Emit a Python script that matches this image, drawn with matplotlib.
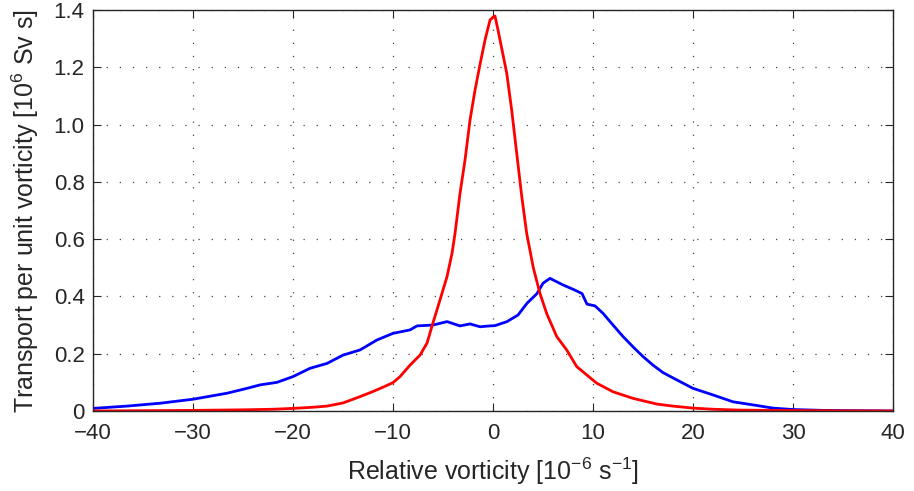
import matplotlib
matplotlib.use("Agg")
import matplotlib.pyplot as plt

# relative vorticity [1e-6 s^-1] and transport per unit vorticity [1e6 Sv s]
BLUE_X = [-40, -36.6, -33.3, -30, -26.6, -24.6, -23.3, -21.6, -20, -18.3, -16.6,
          -15, -13.3, -11.6, -10, -8.3, -7.6, -6, -4.6, -3.3, -2.3, -1.3, -0.3,
          0.2, 1.4, 2.5, 3.4, 4.4, 5.0, 5.7, 7.0, 8.0, 8.9, 9.4, 10.2, 11.0,
          12.0, 13.0, 14.0, 15.0, 16.0, 17.0, 18.4, 20, 22, 24, 26.4, 28, 30,
          33, 36, 40]
BLUE_Y = [0.009, 0.017, 0.027, 0.041, 0.062, 0.079, 0.091, 0.10, 0.12, 0.149,
          0.166, 0.195, 0.213, 0.248, 0.271, 0.283, 0.297, 0.30, 0.312, 0.297,
          0.304, 0.294, 0.297, 0.298, 0.312, 0.335, 0.376, 0.41, 0.446, 0.463,
          0.44, 0.425, 0.41, 0.373, 0.367, 0.341, 0.30, 0.26, 0.224, 0.19, 0.16,
          0.134, 0.108, 0.079, 0.056, 0.032, 0.019, 0.010, 0.005, 0.002, 0.001,
          0.0]

RED_X = [-40, -35, -30, -25, -22, -20, -18, -16.6, -15, -13.3, -12, -11, -10,
         -9.3, -8.3, -7.3, -6.6, -6.07, -5.3, -4.6, -4.1, -3.8, -3.3, -2.8,
         -2.3, -1.8, -1.3, -0.8, -0.3, 0.0, 0.2, 0.5, 1.37, 1.87, 2.37, 2.87,
         3.37, 4.03, 4.7, 5.37, 6.37, 7.37, 8.37, 9.37, 10.37, 12, 14, 16.4,
         18, 20, 22, 24.7, 28, 32, 40]
RED_Y = [0.0, 0.001, 0.002, 0.004, 0.006, 0.009, 0.013, 0.017, 0.028, 0.05,
         0.068, 0.083, 0.099, 0.12, 0.16, 0.195, 0.237, 0.30, 0.388, 0.469,
         0.55, 0.62, 0.76, 0.876, 1.016, 1.12, 1.21, 1.295, 1.365, 1.375, 1.379,
         1.33, 1.18, 1.05, 0.90, 0.75, 0.62, 0.50, 0.41, 0.34, 0.26, 0.213,
         0.155, 0.126, 0.097, 0.067, 0.044, 0.024, 0.017, 0.010, 0.006, 0.003,
         0.002, 0.001, 0.0]

X_TICKS = [-40, -30, -20, -10, 0, 10, 20, 30, 40]
Y_TICKS = [0, 0.2, 0.4, 0.6, 0.8, 1.0, 1.2, 1.4]
Y_TICKLABELS = ["0", "0.2", "0.4", "0.6", "0.8", "1.0", "1.2", "1.4"]

plt.rcParams["font.family"] = ["Liberation Sans", "DejaVu Sans"]
plt.rcParams["mathtext.fontset"] = "custom"
plt.rcParams["mathtext.rm"] = "Liberation Sans"

fig = plt.figure(figsize=(9.14, 4.91), dpi=100)
ax = fig.add_axes([0.1018, 0.163, 0.8752, 0.8166])

ax.plot(BLUE_X, BLUE_Y, color="#0000ff", linewidth=2)
ax.plot(RED_X, RED_Y, color="#ff0000", linewidth=2)

ax.set_xlim(-40, 40)
ax.set_ylim(0, 1.4)
ax.set_xticks(X_TICKS)
ax.set_yticks(Y_TICKS)
ax.set_yticklabels(Y_TICKLABELS)
ax.tick_params(direction="in", top=True, right=True, length=6, width=0.8,
               labelsize=16, colors="#262626")
ax.tick_params(axis="x", pad=9)
ax.tick_params(axis="y", pad=6)
for sp in ax.spines.values():
    sp.set_color("#262626")
    sp.set_linewidth(1.0)
ax.grid(True, linestyle=(0, (1, 9.5)), color="#444444", linewidth=0.9)

ax.set_xlabel(r"Relative vorticity [10$^{-6}$ s$^{-1}$]", fontsize=18,
              color="#262626", labelpad=8)
ax.set_ylabel(r"Transport per unit vorticity [10$^{6}$ Sv s]", fontsize=18,
              color="#262626", labelpad=9)

fig.savefig("out.png", dpi=100)
